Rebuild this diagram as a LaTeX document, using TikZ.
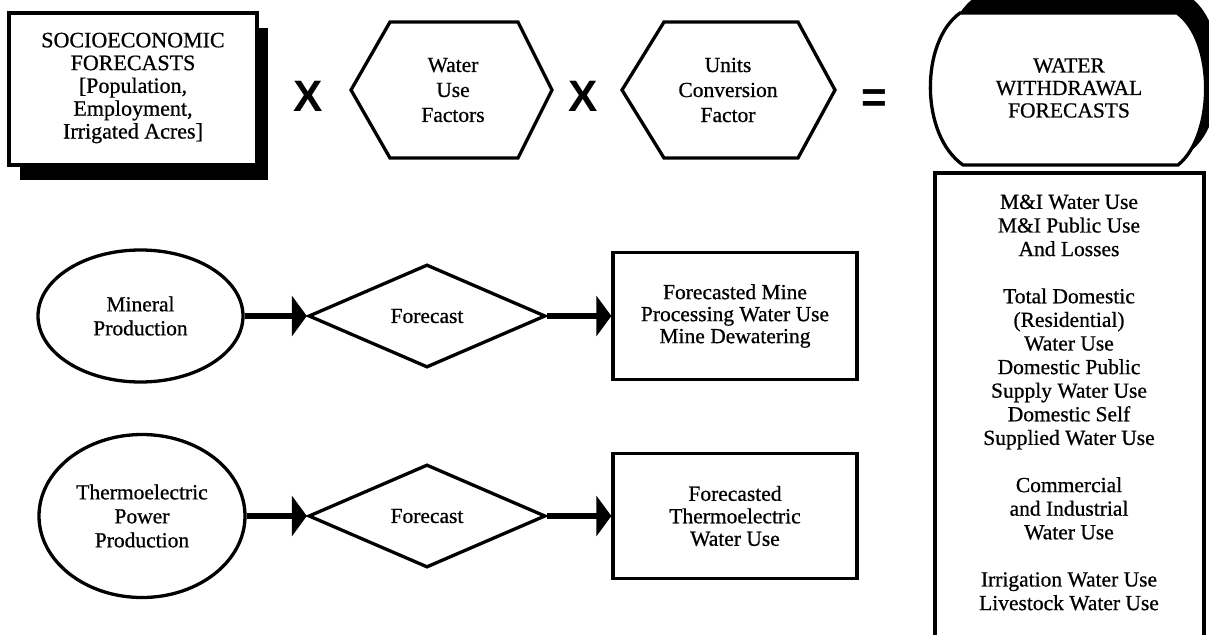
\documentclass[tikz,border=0pt]{standalone}
\usepackage{fontspec}
\setmainfont[FakeBold=0.7]{Liberation Serif}
\newfontfamily\opsans{Liberation Sans}
\usetikzlibrary{shapes.geometric,arrows.meta}
\begin{document}
\begin{tikzpicture}[x=1pt,y=-1pt,
  outline/.style={draw=black,line width=3.3pt,line join=miter},
  label/.style={align=center,inner sep=0pt,font=\fontsize{21.5}{24}\selectfont},
  oper/.style={inner sep=0pt,font=\opsans\bfseries\fontsize{44}{44}\selectfont},
  flow/.style={line width=5.5pt,-{Triangle[length=15pt,width=40pt]}},
  ]
\useasboundingbox (0,0) rectangle (1209,634);
\clip (0,0) rectangle (1209,634);
\fill[white] (0,0) rectangle (1209,634);

% socioeconomic forecasts box with its drop shadow
\fill[black] (20,28) rectangle (268,180);
\draw[outline,fill=white] (9,13) rectangle (257,165);
\node[label,font=\fontsize{22}{22.8}\selectfont] (socio) at (133,88)
  {SOCIOECONOMIC\\FORECASTS\\{[}Population,\\Employment,\\Irrigated Acres]};

\node[oper] (times1) at (308,96) {X};

% water use factors hexagon
\draw[outline] (351,90) -- (390,22) -- (518,22) -- (552,90) -- (518,158) -- (390,158) -- cycle;
\node[label,font=\fontsize{21.5}{25}\selectfont] (wuf) at (453,90) {Water\\Use\\Factors};

\node[oper] (times2) at (583,96) {X};

% units conversion hexagon
\draw[outline] (622,90) -- (664,22) -- (798,22) -- (835,90) -- (798,158) -- (664,158) -- cycle;
\node[label,font=\fontsize{21.5}{25}\selectfont] (ucf) at (728,90) {Units\\Conversion\\Factor};

\node[oper] (equals) at (874,101) {=};

% water withdrawal forecasts: shadow, then the shape itself
\fill[black,shift={(14,-15)}] (960,13) -- (1177,13)
  .. controls (1215,40) and (1215,135) .. (1178,165) -- (963,165)
  .. controls (920,135) and (920,42) .. (960,13) -- cycle;
\draw[outline,fill=white] (960,13) -- (1177,13)
  .. controls (1215,40) and (1215,135) .. (1178,165) -- (963,165)
  .. controls (920,135) and (920,42) .. (960,13) -- cycle;
\node[label,font=\fontsize{21.5}{22.5}\selectfont] (wwf) at (1069,88)
  {WATER\\WITHDRAWAL\\FORECASTS};

% list of withdrawal categories
\draw[outline] (935,173) rectangle (1204,680);
\node[label,font=\fontsize{21.5}{23.6}\selectfont] (uses) at (1069,402.5)
  {M\&I Water Use\\M\&I Public Use\\And Losses\\[23.6pt]%
   Total Domestic\\(Residential)\\Water Use\\Domestic Public\\Supply Water Use\\Domestic Self\\Supplied Water Use\\[23.6pt]%
   Commercial\\and Industrial\\Water Use\\[23.6pt]%
   Irrigation Water Use\\Livestock Water Use};

% mineral row
\node[outline,label,ellipse,minimum width=205pt,minimum height=132pt] (mineral) at (140.5,316)
  {Mineral\\Production};
\node[outline,label,diamond,minimum width=237pt,minimum height=103pt] (fc1) at (427,316)
  {Forecast};
\node[outline,label,rectangle,minimum width=244pt,minimum height=127pt,
  font=\fontsize{21.5}{22}\selectfont] (mine) at (735,316)
  {Forecasted Mine\\Processing Water Use\\Mine Dewatering};
\draw[flow] (mineral.east) -- (fc1.west);
\draw[flow] (fc1.east) -- (mine.west);

% thermoelectric row
\node[outline,label,ellipse,minimum width=206pt,minimum height=163pt] (thermo) at (142,516)
  {Thermoelectric\\Power\\Production};
\node[outline,label,diamond,minimum width=237pt,minimum height=103pt] (fc2) at (427,516)
  {Forecast};
\node[outline,label,rectangle,minimum width=244pt,minimum height=125pt,
  font=\fontsize{21.5}{22.5}\selectfont] (thermouse) at (735,516)
  {Forecasted\\Thermoelectric\\Water Use};
\draw[flow] (thermo.east) -- (fc2.west);
\draw[flow] (fc2.east) -- (thermouse.west);
\end{tikzpicture}
\end{document}
